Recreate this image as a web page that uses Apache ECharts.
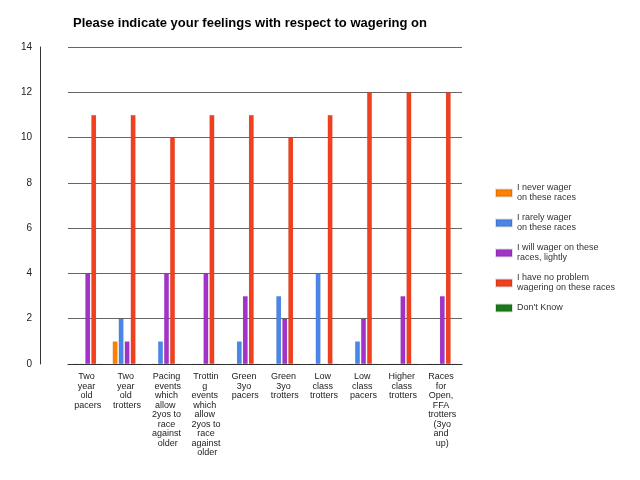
<!DOCTYPE html>
<html><head><meta charset="utf-8">
<script src="https://cdn.jsdelivr.net/npm/echarts@6/dist/echarts.min.js"></script>
<style>html,body{margin:0;padding:0;background:#fff}#c{width:640px;height:480px}</style>
</head><body><div id="c"></div>
<script>
// categories and series
const categories = ['Two year old pacers', 'Two year old trotters', 'Pacing events which allow 2yos to race against older',
  'Trotting events which allow 2yos to race against older', 'Green 3yo pacers', 'Green 3yo trotters',
  'Low class trotters', 'Low class pacers', 'Higher class trotters', 'Races for Open, FFA trotters (3yo and up)'];
const neverWager = [0, 1, 0, 0, 0, 0, 0, 0, 0, 0];
const rarelyWager = [0, 2, 1, 0, 1, 3, 4, 1, 0, 0];
const wagerLightly = [4, 1, 4, 4, 3, 2, 0, 2, 3, 3];
const noProblem = [11, 11, 10, 11, 11, 10, 11, 12, 12, 12];
const dontKnow = [0, 0, 0, 0, 0, 0, 0, 0, 0, 0];

const mk = (name, data, color) => ({
  name, type: 'bar', data, barWidth: 5, barGap: '20%',
  itemStyle: { color, borderColor: 'rgba(0,0,0,0.12)', borderWidth: 0.5 }
});

const chart = echarts.init(document.getElementById('c'));
chart.setOption({
  animation: false,
  textStyle: { fontFamily: 'Arial, Liberation Sans, sans-serif' },
  title: { text: 'Please indicate your feelings with respect to wagering on', left: 68, top: 12,
    textStyle: { fontSize: 13, fontWeight: 'bold', color: '#000' } },
  grid: { left: 68, right: 178, top: 47, bottom: 116 },
  legend: {
    orient: 'vertical', left: 490, top: 178, itemWidth: 16, itemHeight: 7, itemGap: 10,
    icon: 'rect', textStyle: { fontSize: 9, color: '#333', lineHeight: 10 },
    data: ['I never wager\non these races', 'I rarely wager\non these races', 'I will wager on these\nraces, lightly',
      'I have no problem\nwagering on these races', "Don't Know"]
  },
  xAxis: {
    type: 'category', data: categories,
    axisLine: { lineStyle: { color: '#333' } },
    axisTick: { alignWithLabel: true, length: 4, lineStyle: { color: '#333' } },
    axisLabel: { interval: 0, fontSize: 9, color: '#222', width: 30, overflow: 'break', lineHeight: 9.5, align: 'center' }
  },
  yAxis: {
    type: 'value', min: 0, max: 14, interval: 2, offset: 28,
    axisLine: { show: true, lineStyle: { color: '#333' } },
    axisTick: { show: false },
    splitLine: { lineStyle: { color: '#666' } },
    axisLabel: { fontSize: 10, color: '#222' }
  },
  series: [
    mk('I never wager\non these races', neverWager, '#ff8000'),
    mk('I rarely wager\non these races', rarelyWager, '#4a86e8'),
    mk('I will wager on these\nraces, lightly', wagerLightly, '#a332c8'),
    mk('I have no problem\nwagering on these races', noProblem, '#f2401f'),
    mk("Don't Know", dontKnow, '#1a7a1a')
  ]
});
</script></body></html>
